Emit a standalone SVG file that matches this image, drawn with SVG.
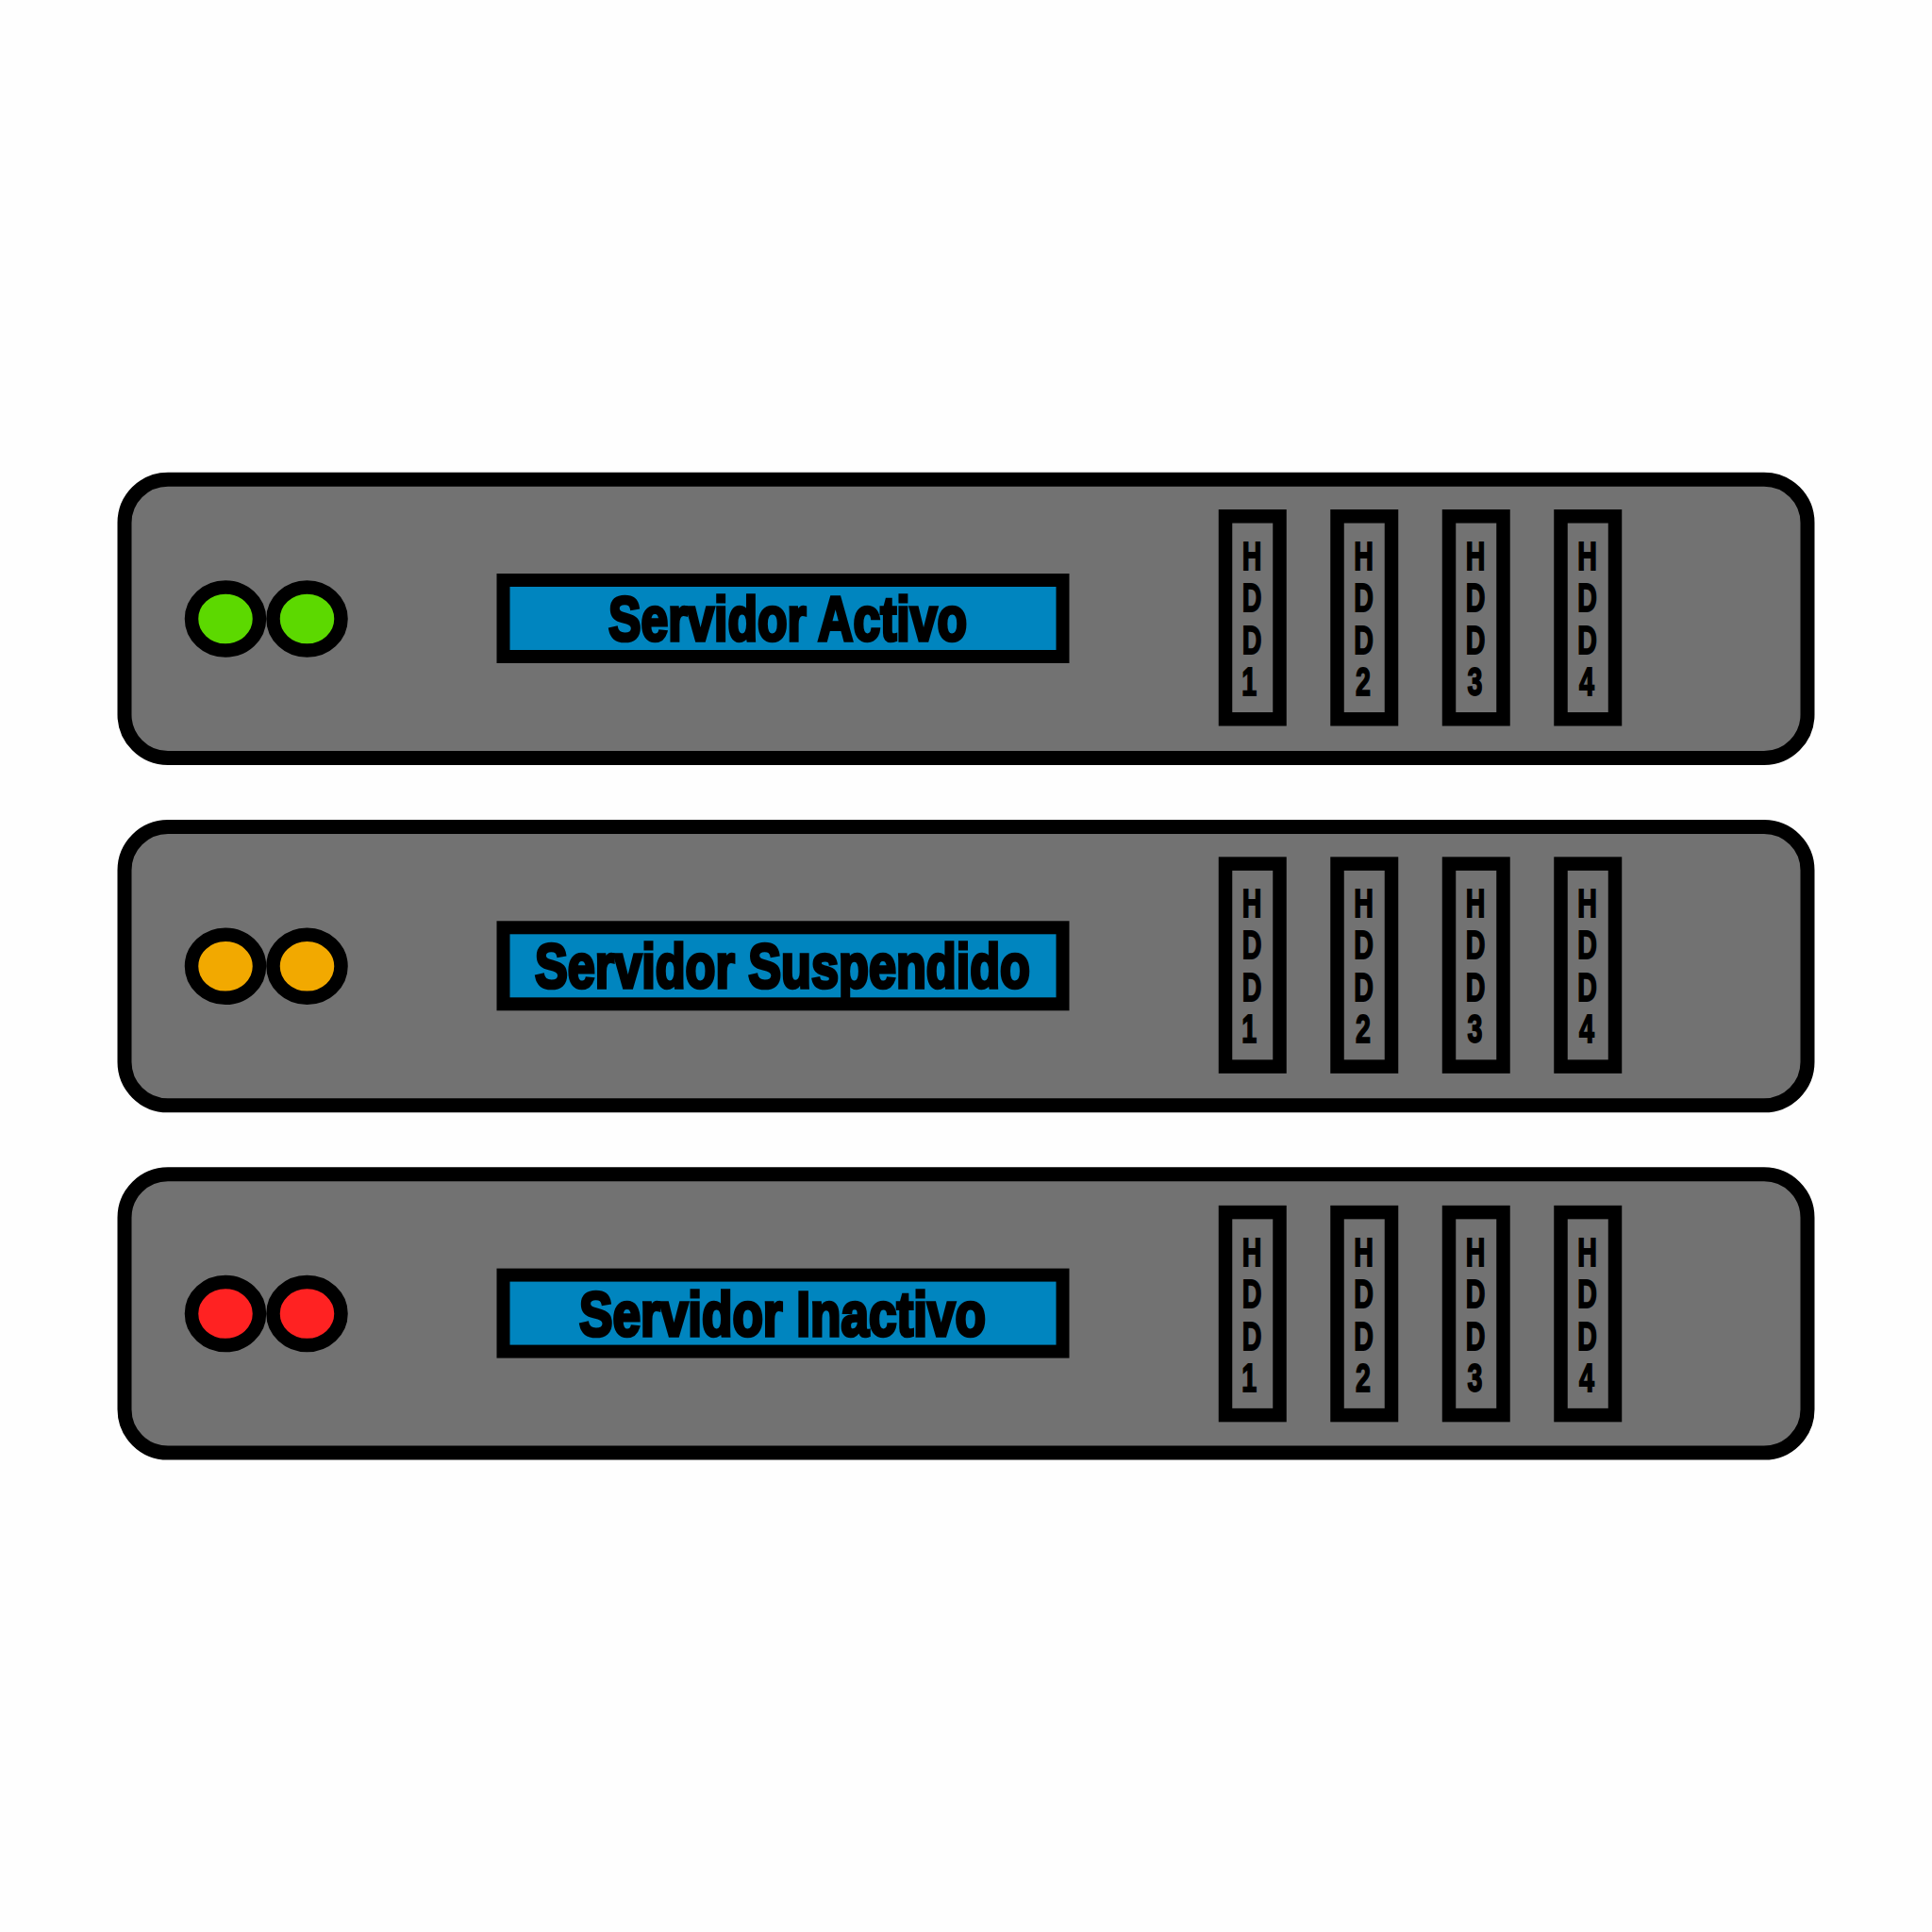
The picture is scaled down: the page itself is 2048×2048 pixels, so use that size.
<svg xmlns="http://www.w3.org/2000/svg" width="2048" height="2048" viewBox="0 0 2048 2048">
<style>
.chassis{fill:#727272;stroke:#000;stroke-width:15}
.led{stroke:#000;stroke-width:14.5}
.display{fill:#0085bf;stroke:#000;stroke-width:14}
.bay{fill:#727272;stroke:#000;stroke-width:14.5}
.title{font-family:"Liberation Sans Narrow","Liberation Sans",sans-serif;font-weight:700;font-size:66px;fill:#000;stroke:#000;stroke-width:3.6px}
.hdd{font-family:"Liberation Sans Narrow","Liberation Sans",sans-serif;font-weight:700;font-size:42px;fill:#000;stroke:#000;stroke-width:1.8px;text-anchor:middle}
</style>
<rect width="2048" height="2048" fill="#fefefe"/>
<g id="server-activo">
<rect class="chassis" x="132" y="508.2" width="1784" height="295.3" rx="46" ry="46"/>
<ellipse class="led" cx="239" cy="656" rx="36" ry="33.5" fill="#5cd900"/>
<ellipse class="led" cx="325.5" cy="656" rx="36" ry="33.5" fill="#5cd900"/>
<rect class="display" x="533.5" y="615" width="593" height="81"/>
<text class="title" x="645" y="679" textLength="380" lengthAdjust="spacingAndGlyphs">Servidor Activo</text>
<g id="activo-hdd1"><rect class="bay" x="1299" y="547.3" width="57.5" height="215"/><text class="hdd" transform="translate(1327,0) scale(.68,1)"><tspan x="0" y="604">H</tspan><tspan x="0" y="648">D</tspan><tspan x="0" y="693">D</tspan><tspan x="-4" y="737">1</tspan></text></g>
<g id="activo-hdd2"><rect class="bay" x="1417.5" y="547.3" width="57.5" height="215"/><text class="hdd" transform="translate(1445.5,0) scale(.68,1)"><tspan x="0" y="604">H</tspan><tspan x="0" y="648">D</tspan><tspan x="0" y="693">D</tspan><tspan x="-1" y="737">2</tspan></text></g>
<g id="activo-hdd3"><rect class="bay" x="1536" y="547.3" width="57.5" height="215"/><text class="hdd" transform="translate(1564,0) scale(.68,1)"><tspan x="0" y="604">H</tspan><tspan x="0" y="648">D</tspan><tspan x="0" y="693">D</tspan><tspan x="-1" y="737">3</tspan></text></g>
<g id="activo-hdd4"><rect class="bay" x="1654.5" y="547.3" width="57.5" height="215"/><text class="hdd" transform="translate(1682.5,0) scale(.68,1)"><tspan x="0" y="604">H</tspan><tspan x="0" y="648">D</tspan><tspan x="0" y="693">D</tspan><tspan x="-1" y="737">4</tspan></text></g>
</g>
<g id="server-suspendido" transform="translate(0,368.3)">
<rect class="chassis" x="132" y="508.2" width="1784" height="295.3" rx="46" ry="46"/>
<ellipse class="led" cx="239" cy="656" rx="36" ry="33.5" fill="#f2a900"/>
<ellipse class="led" cx="325.5" cy="656" rx="36" ry="33.5" fill="#f2a900"/>
<rect class="display" x="533.5" y="615" width="593" height="81"/>
<text class="title" x="567" y="679" textLength="525" lengthAdjust="spacingAndGlyphs">Servidor Suspendido</text>
<g id="suspendido-hdd1"><rect class="bay" x="1299" y="547.3" width="57.5" height="215"/><text class="hdd" transform="translate(1327,0) scale(.68,1)"><tspan x="0" y="604">H</tspan><tspan x="0" y="648">D</tspan><tspan x="0" y="693">D</tspan><tspan x="-4" y="737">1</tspan></text></g>
<g id="suspendido-hdd2"><rect class="bay" x="1417.5" y="547.3" width="57.5" height="215"/><text class="hdd" transform="translate(1445.5,0) scale(.68,1)"><tspan x="0" y="604">H</tspan><tspan x="0" y="648">D</tspan><tspan x="0" y="693">D</tspan><tspan x="-1" y="737">2</tspan></text></g>
<g id="suspendido-hdd3"><rect class="bay" x="1536" y="547.3" width="57.5" height="215"/><text class="hdd" transform="translate(1564,0) scale(.68,1)"><tspan x="0" y="604">H</tspan><tspan x="0" y="648">D</tspan><tspan x="0" y="693">D</tspan><tspan x="-1" y="737">3</tspan></text></g>
<g id="suspendido-hdd4"><rect class="bay" x="1654.5" y="547.3" width="57.5" height="215"/><text class="hdd" transform="translate(1682.5,0) scale(.68,1)"><tspan x="0" y="604">H</tspan><tspan x="0" y="648">D</tspan><tspan x="0" y="693">D</tspan><tspan x="-1" y="737">4</tspan></text></g>
</g>
<g id="server-inactivo" transform="translate(0,736.6)">
<rect class="chassis" x="132" y="508.2" width="1784" height="295.3" rx="46" ry="46"/>
<ellipse class="led" cx="239" cy="656" rx="36" ry="33.5" fill="#ff2222"/>
<ellipse class="led" cx="325.5" cy="656" rx="36" ry="33.5" fill="#ff2222"/>
<rect class="display" x="533.5" y="615" width="593" height="81"/>
<text class="title" x="614" y="679" textLength="431" lengthAdjust="spacingAndGlyphs">Servidor Inactivo</text>
<g id="inactivo-hdd1"><rect class="bay" x="1299" y="548.5" width="57.5" height="215"/><text class="hdd" transform="translate(1327,1.2) scale(.68,1)"><tspan x="0" y="604">H</tspan><tspan x="0" y="648">D</tspan><tspan x="0" y="693">D</tspan><tspan x="-4" y="737">1</tspan></text></g>
<g id="inactivo-hdd2"><rect class="bay" x="1417.5" y="548.5" width="57.5" height="215"/><text class="hdd" transform="translate(1445.5,1.2) scale(.68,1)"><tspan x="0" y="604">H</tspan><tspan x="0" y="648">D</tspan><tspan x="0" y="693">D</tspan><tspan x="-1" y="737">2</tspan></text></g>
<g id="inactivo-hdd3"><rect class="bay" x="1536" y="548.5" width="57.5" height="215"/><text class="hdd" transform="translate(1564,1.2) scale(.68,1)"><tspan x="0" y="604">H</tspan><tspan x="0" y="648">D</tspan><tspan x="0" y="693">D</tspan><tspan x="-1" y="737">3</tspan></text></g>
<g id="inactivo-hdd4"><rect class="bay" x="1654.5" y="548.5" width="57.5" height="215"/><text class="hdd" transform="translate(1682.5,1.2) scale(.68,1)"><tspan x="0" y="604">H</tspan><tspan x="0" y="648">D</tspan><tspan x="0" y="693">D</tspan><tspan x="-1" y="737">4</tspan></text></g>
</g>
</svg>
